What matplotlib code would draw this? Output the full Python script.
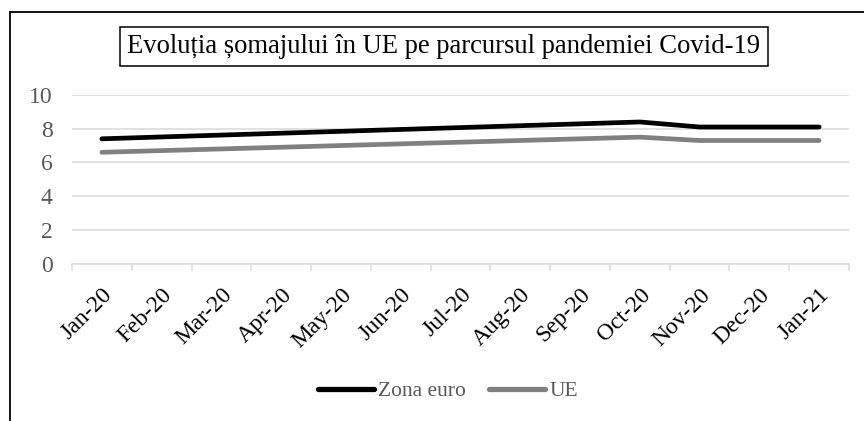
import numpy as np
import matplotlib
matplotlib.use("Agg")
import matplotlib.pyplot as plt
from matplotlib.patches import Rectangle

# data (empty months are gaps joined by the line)
months = ["Jan-20", "Feb-20", "Mar-20", "Apr-20", "May-20", "Jun-20", "Jul-20",
          "Aug-20", "Sep-20", "Oct-20", "Nov-20", "Dec-20", "Jan-21"]
nan = np.nan
zona_euro = [7.4, nan, nan, nan, nan, nan, nan, nan, nan, 8.4, 8.1, 8.1, 8.1]
ue = [6.6, nan, nan, nan, nan, nan, nan, nan, nan, 7.5, 7.3, 7.3, 7.3]
y_ticks = [0, 2, 4, 6, 8, 10]
title = "Evoluția șomajului în UE pe parcursul pandemiei Covid-19"

plt.rcParams['font.family'] = ['Liberation Serif', 'DejaVu Serif']

W, H = 864, 421
fig = plt.figure(figsize=(W / 100, H / 100), dpi=100)
ax = fig.add_axes([72 / W, 1 - 263.5 / H, (849 - 72) / W, (263.5 - 95) / H])

x = np.arange(len(months))
for vals, col, lab in [(zona_euro, "#000000", "Zona euro"), (ue, "#808080", "UE")]:
    v = np.array(vals, dtype=float)
    ok = ~np.isnan(v)
    ax.plot(x[ok], v[ok], color=col, lw=3.4, solid_capstyle='round',
            solid_joinstyle='round', label=lab)

ax.set_xlim(-0.5, len(months) - 0.5)
ax.set_ylim(0, 10)
ax.set_yticks(y_ticks)
ax.set_yticklabels([str(t) for t in y_ticks], fontsize=17, color="#595959")
ax.yaxis.grid(True, color="#D9D9D9", lw=1.1)
ax.set_axisbelow(True)

ax.set_xticks(x)
ax.set_xticklabels(months, fontsize=17, rotation=45, ha='right', va='top',
                   rotation_mode='anchor')
ax.set_xticks(np.arange(-0.5, len(months)), minor=True)
ax.tick_params(axis='x', which='major', length=0, pad=15)
ax.tick_params(axis='x', which='minor', length=5, color="#D9D9D9", width=1.1)
ax.tick_params(axis='y', length=0, pad=14)
for side in ['top', 'right', 'left']:
    ax.spines[side].set_visible(False)
ax.spines['bottom'].set_color("#D9D9D9")
ax.spines['bottom'].set_linewidth(1.1)

leg = fig.legend(loc='center', bbox_to_anchor=(448 / W, 1 - 391 / H), ncol=2,
                 frameon=False, fontsize=15.5, handlelength=2.6, handletextpad=0.2,
                 columnspacing=1.1)
for t in leg.get_texts():
    t.set_color("#595959")
for ln in leg.get_lines():
    ln.set_linewidth(3.8)

fig.text(444 / W, 1 - 46.5 / H, title, ha='center', va='center', fontsize=19.2,
         bbox=dict(boxstyle='square,pad=0.27', fc='white', ec='black', lw=1.1))

# outer chart frame, cut off on the right and bottom
fig.add_artist(Rectangle((10 / W, -0.2), 1.2, 1.2 - 12 / H, transform=fig.transFigure,
                         fill=False, ec='black', lw=1.3))

fig.savefig("out.png", dpi=100)
